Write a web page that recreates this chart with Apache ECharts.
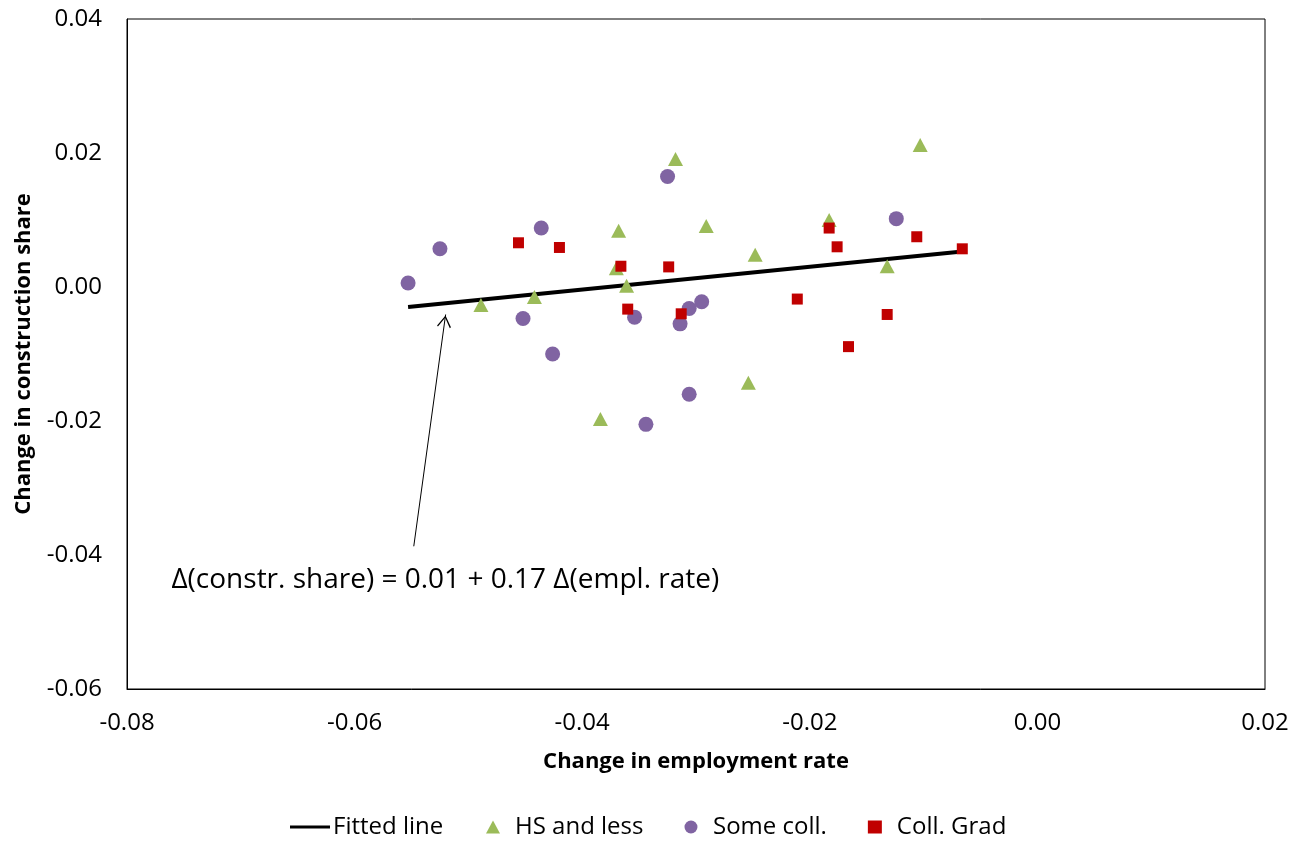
<!DOCTYPE html>
<html>
<head>
<meta charset="utf-8">
<script src="https://cdn.jsdelivr.net/npm/echarts@6/dist/echarts.min.js"></script>
<style>
  html, body { margin: 0; padding: 0; background: #fff; }
  #chart { width: 1302px; height: 846px; }
</style>
</head>
<body>
<div id="chart"></div>
<script>
// values
const hsX = [-0.0489, -0.0442, -0.0368, -0.0370, -0.0361, -0.0318, -0.0291, -0.0384, -0.0248, -0.0254, -0.0183, -0.0132, -0.0103];
const hsY = [-0.0027, -0.0015, 0.0084, 0.0028, 0.0002, 0.0191, 0.0091, -0.0197, 0.0048, -0.0143, 0.0100, 0.0031, 0.0212];
const someX = [-0.0553, -0.0525, -0.0436, -0.0452, -0.0426, -0.0325, -0.0354, -0.0314, -0.0306, -0.0295, -0.0306, -0.0344, -0.0124];
const someY = [0.0006, 0.0057, 0.0088, -0.0047, -0.0100, 0.0165, -0.0045, -0.0055, -0.0032, -0.0022, -0.0160, -0.0205, 0.0102];
const gradX = [-0.0456, -0.0420, -0.0366, -0.0324, -0.0360, -0.0313, -0.0211, -0.0183, -0.0176, -0.0166, -0.0132, -0.0106, -0.0066];
const gradY = [0.0066, 0.0059, 0.0031, 0.0030, -0.0033, -0.0040, -0.0018, 0.0088, 0.0060, -0.0089, -0.0041, 0.0075, 0.0057];
const fitX = [-0.0553, -0.0066];
const fitY = [-0.0030, 0.0053];

const noteText = "Δ(constr. share) = 0.01 + 0.17 Δ(empl. rate)";
const notePos = [-0.0761, -0.0437];
const arrowFrom = [-0.0548, -0.0387];
const arrowTo = [-0.0520, -0.0041];

const xTicks = [-0.08, 0.02, 0.02]; // min, max, step
const yTicks = [-0.06, 0.04, 0.02];

const FONT = "Open Sans";
const zip = (xs, ys) => xs.map((x, i) => [x, ys[i]]);

// open chevron, tip sits at the symbol centre
const arrowHead = "path://M7,14 L14,25 L13,26 L7,16.2 L1,26 L0,25 Z M7,0 L7.01,0 Z";

const legendText = { fontFamily: FONT, fontSize: 24, color: "#000" };

const chart = echarts.init(document.getElementById("chart"));
chart.setOption({
  animation: false,
  textStyle: { fontFamily: FONT, color: "#000" },
  grid: { left: 127, right: 37, top: 19, bottom: 157, show: true, borderColor: "#000", borderWidth: 1, outerBoundsMode: "none" },
  legend: [
    {
      left: 290,
      top: 815,
      padding: 0,
      itemWidth: 40,
      itemHeight: 3,
      textStyle: Object.assign({ padding: [0, 0, 0, -2] }, legendText),
      data: [{ name: "Fitted line", icon: "rect", itemStyle: { color: "#000" } }]
    },
    {
      left: 486,
      top: 815,
      padding: 0,
      itemWidth: 14,
      itemHeight: 13,
      itemGap: 41,
      textStyle: Object.assign({ padding: [0, 0, 0, 10] }, legendText),
      data: [
        { name: "HS and less", icon: "triangle" },
        { name: "Some coll.", icon: "circle" },
        { name: "Coll. Grad", icon: "rect", itemStyle: { borderWidth: 0 } }
      ]
    }
  ],
  xAxis: {
    type: "value",
    min: xTicks[0],
    max: xTicks[1],
    interval: xTicks[2],
    name: "Change in employment rate",
    nameLocation: "middle",
    nameGap: 62,
    nameTextStyle: { fontFamily: FONT, fontSize: 22, fontWeight: "bold", color: "#000" },
    axisLine: { onZero: false, lineStyle: { color: "#000" } },
    axisTick: { show: false },
    splitLine: { show: false },
    axisLabel: { fontSize: 24, color: "#000", margin: 22, formatter: v => v.toFixed(2) }
  },
  yAxis: {
    type: "value",
    min: yTicks[0],
    max: yTicks[1],
    interval: yTicks[2],
    name: "Change in construction share",
    nameLocation: "middle",
    nameGap: 92,
    nameTextStyle: { fontFamily: FONT, fontSize: 22, fontWeight: "bold", color: "#000" },
    axisLine: { onZero: false, lineStyle: { color: "#000" } },
    axisTick: { show: false },
    splitLine: { show: false },
    axisLabel: { fontSize: 24, color: "#000", margin: 25, formatter: v => v.toFixed(2) }
  },
  series: [
    {
      type: "line",
      name: "Fitted line",
      data: zip(fitX, fitY),
      symbol: "none",
      z: 1,
      lineStyle: { color: "#000", width: 4 },
      itemStyle: { color: "#000" },
      markLine: {
        silent: true,
        symbol: ["none", arrowHead],
        symbolSize: [14, 26],
        label: { show: false },
        lineStyle: { type: "solid", color: "#000", width: 1 },
        emphasis: { disabled: true },
        data: [[{ coord: arrowFrom }, { coord: arrowTo }]]
      },
      markPoint: {
        silent: true,
        symbol: "circle",
        symbolSize: 0,
        label: {
          show: true,
          position: "right",
          distance: 0,
          formatter: noteText,
          fontFamily: FONT,
          fontSize: 28,
          color: "#000"
        },
        data: [{ coord: notePos }]
      }
    },
    {
      type: "scatter",
      name: "HS and less",
      data: zip(hsX, hsY),
      symbol: "triangle",
      symbolSize: [15, 14],
      itemStyle: { color: "#9BBB59", opacity: 1 }
    },
    {
      type: "scatter",
      name: "Some coll.",
      data: zip(someX, someY),
      symbol: "circle",
      symbolSize: 15,
      itemStyle: { color: "#8064A2", opacity: 1 }
    },
    {
      type: "scatter",
      name: "Coll. Grad",
      data: zip(gradX, gradY),
      symbol: "rect",
      symbolSize: 11,
      itemStyle: { color: "#C00000", opacity: 1 }
    }
  ]
});
</script>
</body>
</html>
